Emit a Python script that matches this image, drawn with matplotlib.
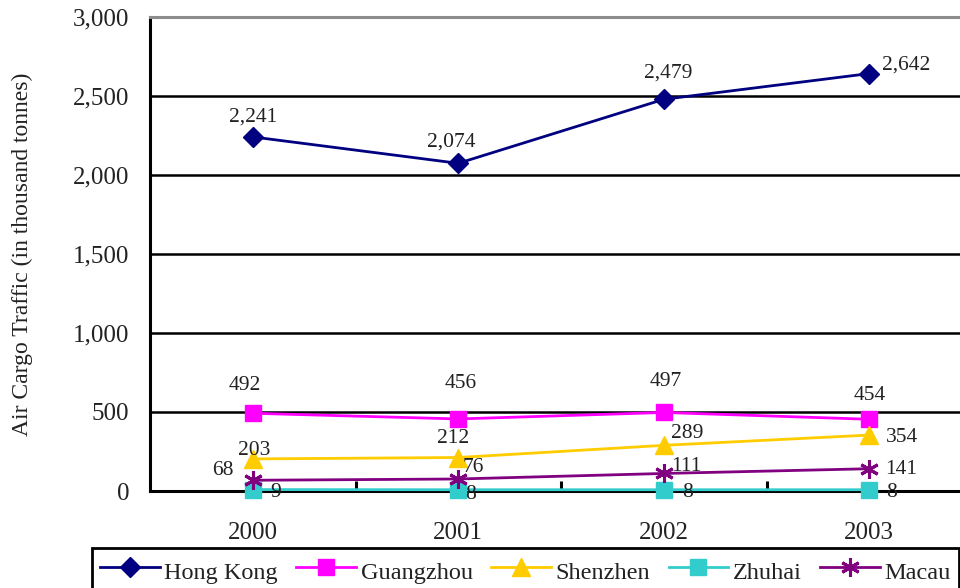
import matplotlib
matplotlib.use("Agg")
import matplotlib.pyplot as plt
from matplotlib.ticker import FixedLocator, FuncFormatter

plt.rcParams['font.family'] = ['Liberation Serif', 'DejaVu Serif']

# ---- data -------------------------------------------------------------
years = ["2000", "2001", "2002", "2003"]
hong_kong = [2241, 2074, 2479, 2642]
guangzhou = [492, 456, 497, 454]
shenzhen = [203, 212, 289, 354]
zhuhai = [9, 8, 8, 8]
macau = [68, 76, 111, 141]

series_names = ["Hong Kong", "Guangzhou", "Shenzhen", "Zhuhai", "Macau"]
y_ticks = [0, 500, 1000, 1500, 2000, 2500, 3000]

# ---- styling ----------------------------------------------------------
styles = {
    "Hong Kong": dict(color="#000080", marker="D", ms=10.5, mew=1.0),
    "Guangzhou": dict(color="#FF00FF", marker="s", ms=12, mew=1.0),
    "Shenzhen": dict(color="#FFCC00", marker="^", ms=12.5, mew=1.0),
    "Zhuhai": dict(color="#33CCCC", marker="s", ms=12, mew=1.0),
    "Macau": dict(color="#800080", marker=(6, 2, 0), ms=13.5, mew=2.2),
}

# label offsets in pixels (right, down) relative to each point
label_offsets = {
    "Hong Kong": [(0, -20), (-7, -21), (4, -26), (37, -9)],
    "Guangzhou": [(-8, -28), (2, -35), (2, -31), (1, -24)],
    "Shenzhen": [(1, -8), (-5, -19), (23, -12), (33, 2)],
    "Zhuhai": [(23, 3), (12, 5), (24, 3), (22, 3)],
    "Macau": [(-30, -10), (15, -11), (23, -7), (32, 1)],
}

values = {
    "Hong Kong": hong_kong,
    "Guangzhou": guangzhou,
    "Shenzhen": shenzhen,
    "Zhuhai": zhuhai,
    "Macau": macau,
}

W, H = 960, 588
fig = plt.figure(figsize=(W / 100, H / 100), dpi=100)
ax = fig.add_axes([150 / W, 1 - 491 / H, 822 / W, 474 / H])

x = list(range(len(years)))
handles = []
for name in series_names:
    st = styles[name]
    line, = ax.plot(x, values[name], color=st["color"], lw=2.0,
                    marker=st["marker"], markersize=st["ms"],
                    markerfacecolor=st["color"], markeredgecolor=st["color"],
                    markeredgewidth=st["mew"], clip_on=False, zorder=3,
                    label=name)
    handles.append(line)
    for xi, v, (dx, dy) in zip(x, values[name], label_offsets[name]):
        ax.annotate(f"{v:,}", (xi, v), xytext=(dx, -dy),
                    textcoords="offset pixels", ha="center", va="center",
                    fontsize=15.5, color="#222222", zorder=4)

ax.set_xlim(-0.5, len(years) - 0.5)
ax.set_ylim(0, 3000)

ax.yaxis.set_major_locator(FixedLocator(y_ticks))
ax.yaxis.set_major_formatter(FuncFormatter(lambda v, p: f"{int(v):,}"))
ax.tick_params(axis="y", length=0, pad=15, labelsize=18, labelcolor="#222222")

ax.set_xticks(x)
ax.set_xticklabels(years)
ax.set_xticks([0.5, 1.5, 2.5], minor=True)
ax.tick_params(axis="x", which="major", length=0, pad=22, labelsize=18,
               labelcolor="#222222")
ax.tick_params(axis="x", which="minor", direction="in", length=7, width=2.2,
               color="black")

ax.grid(axis="y", color="black", lw=1.8, zorder=1)
ax.set_axisbelow(True)

ax.spines["left"].set_linewidth(2.2)
ax.spines["left"].set_color("black")
ax.spines["bottom"].set_linewidth(2.2)
ax.spines["bottom"].set_color("black")
ax.spines["top"].set_linewidth(2.2)
ax.spines["top"].set_color("#8c8c8c")
ax.spines["right"].set_visible(False)

fig.text(22.5 / W, 1 - 254 / H, "Air Cargo Traffic (in thousand tonnes)",
         rotation=90, ha="center", va="center", fontsize=17, color="#222222")

leg = fig.legend(handles=handles, loc="upper left", ncol=5,
                 bbox_to_anchor=(92 / W, 1 - 548 / H, (959 - 92) / W, 0.0),
                 mode="expand", borderaxespad=0, borderpad=0.33,
                 handlelength=2.45, handleheight=1.5, handletextpad=0.2,
                 columnspacing=0.5, fontsize=17.5, frameon=True,
                 fancybox=False, framealpha=1, edgecolor="black")
leg.get_frame().set_linewidth(2.0)
for t in leg.get_texts():
    t.set_color("#222222")

fig.savefig("out.png", dpi=100)
